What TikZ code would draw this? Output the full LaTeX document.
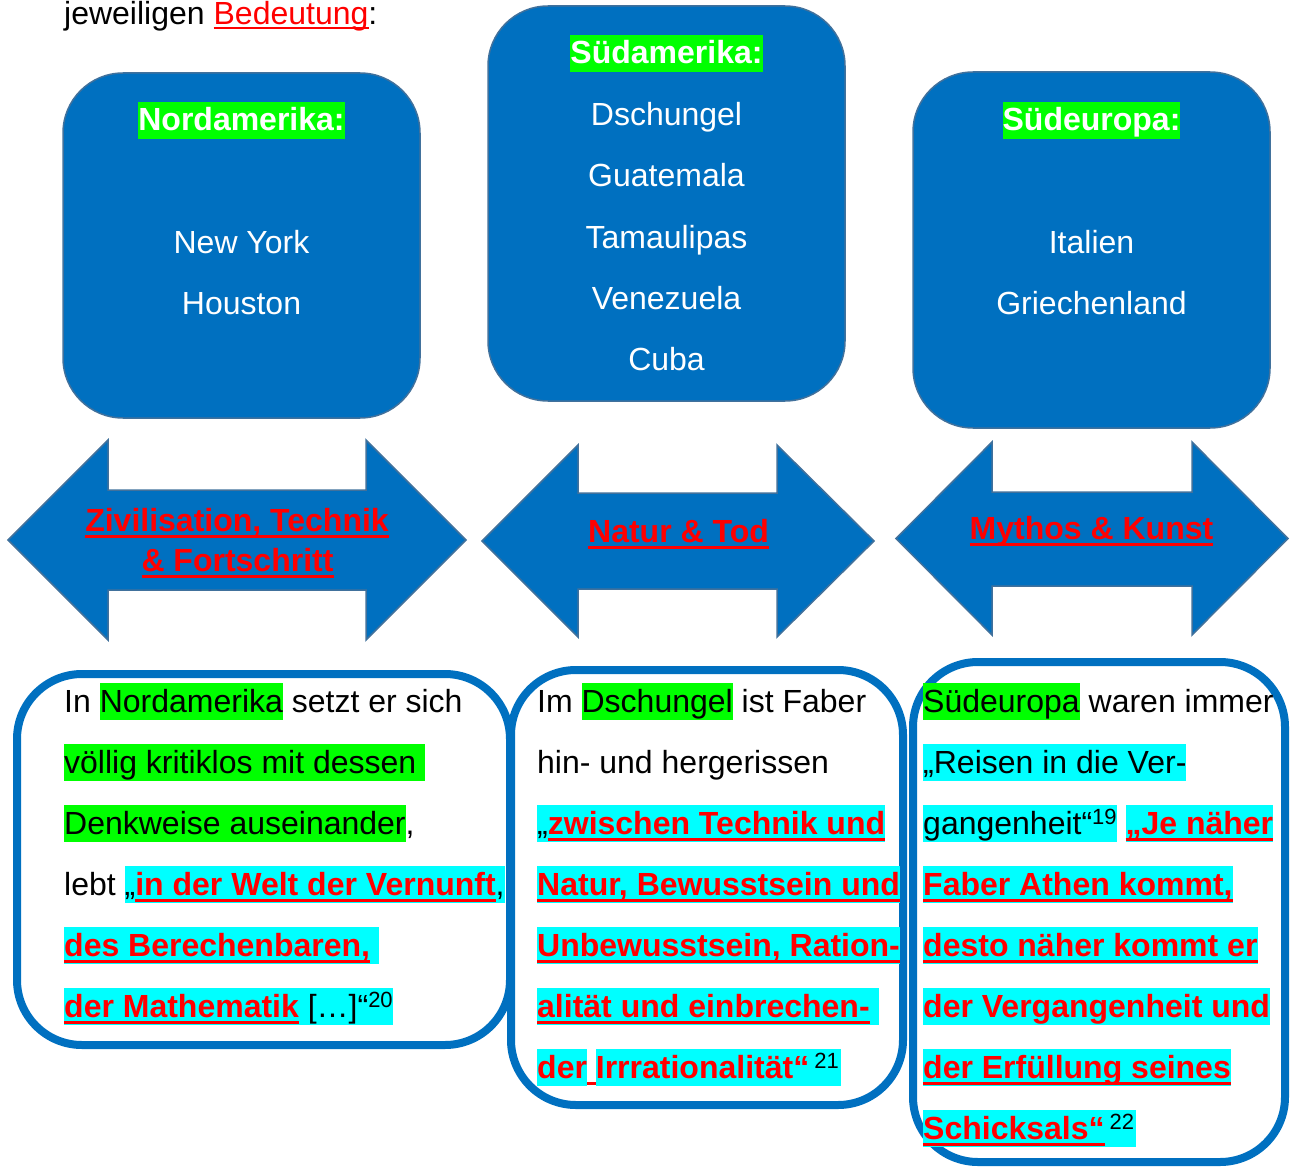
\documentclass[tikz,border=0pt]{standalone}
\usepackage{fontspec}
\setmainfont{Liberation Sans}
\definecolor{boxblue}{HTML}{0070C0}
\definecolor{edgeblue}{HTML}{41719C}
\definecolor{hlgreen}{HTML}{00FF00}
\definecolor{hlcyan}{HTML}{00FFFF}
\definecolor{ulred}{HTML}{FF0000}
\newsavebox\ulsave
\newcommand\hlstrut{\vrule height 29pt depth 8pt width 0pt}
\newcommand\hlg[1]{{\setlength\fboxsep{0pt}\colorbox{hlgreen}{\hlstrut#1}}}
\newcommand\hlc[1]{{\setlength\fboxsep{0pt}\colorbox{hlcyan}{\hlstrut#1}}}
\newcommand\redul[1]{{\sbox\ulsave{\color{ulred}\bfseries#1}\rlap{\color{ulred}\rule[-7pt]{\wd\ulsave}{3.5pt}}\usebox\ulsave}}
\newcommand\fnum[1]{\raisebox{10pt}{\fontsize{22}{22}\selectfont#1}}
\begin{document}
\begin{tikzpicture}[x=1pt,y=-1pt,
  txt/.style={inner sep=0pt, font=\fontsize{32}{38}\selectfont},
  wtxt/.style={txt, text=white, anchor=base},
  topbox/.style={draw=edgeblue, line width=1.5pt, fill=boxblue, rounded corners=60pt, inner sep=0pt},
  lowbox/.style={draw=boxblue, line width=8pt, rounded corners=65pt, inner sep=0pt},
  arrowshape/.style={draw=edgeblue, line width=1.5pt, fill=boxblue}]
\useasboundingbox (0,0) rectangle (1290,1169);

% heading line
\node[txt, anchor=base west] (head) at (64,25) {jeweiligen {\color{ulred}\rlap{\rule[-4pt]{155pt}{2pt}}Bedeutung}:};

% top boxes
\node[topbox, minimum width=357pt, minimum height=345pt] (na) at (241.5,245.5) {};
\node[topbox, minimum width=357pt, minimum height=395pt] (sa) at (666.5,203.5) {};
\node[topbox, minimum width=357pt, minimum height=356pt] (se) at (1091.5,250) {};

\node[wtxt] (naT) at (241.5,131) {\hlg{\bfseries Nordamerika:}};
\node[wtxt] (na1) at (241.5,253) {New York};
\node[wtxt] (na2) at (241.5,314) {Houston};

\node[wtxt] (saT) at (666.5,64) {\hlg{\bfseries Südamerika:}};
\node[wtxt] (sa1) at (666.5,126) {Dschungel};
\node[wtxt] (sa2) at (666.5,187) {Guatemala};
\node[wtxt] (sa3) at (666.5,248) {Tamaulipas};
\node[wtxt] (sa4) at (666.5,309) {Venezuela};
\node[wtxt] (sa5) at (666.5,370) {Cuba};

\node[wtxt] (seT) at (1091.5,131) {\hlg{\bfseries Südeuropa:}};
\node[wtxt] (se1) at (1091.5,253) {Italien};
\node[wtxt] (se2) at (1091.5,314) {Griechenland};

% double arrows
\draw[arrowshape] (8,540) -- (108,440) -- (108,490) -- (366,490) -- (366,440) -- (466,540) -- (366,640) -- (366,590) -- (108,590) -- (108,640) -- cycle;
\draw[arrowshape] (482,541) -- (578,445) -- (578,493) -- (777,493) -- (777,445) -- (874,541) -- (777,637) -- (777,589) -- (578,589) -- (578,637) -- cycle;
\draw[arrowshape] (896,538.5) -- (992,442) -- (992,492) -- (1192,492) -- (1192,442) -- (1288,538.5) -- (1192,635) -- (1192,586) -- (992,586) -- (992,635) -- cycle;

\node[txt, anchor=base] (a1a) at (237,531) {\redul{Zivilisation, Technik}};
\node[txt, anchor=base] (a1b) at (237.5,571) {\redul{\& Fortschritt}};
\node[txt, anchor=base] (a2) at (678.5,542) {\redul{Natur \& Tod}};
\node[txt, anchor=base] (a3) at (1091.5,539) {\redul{Mythos \& Kunst}};

% lower boxes
\node[lowbox, minimum width=493pt, minimum height=371pt] (b1) at (263.5,859.5) {};
\node[lowbox, minimum width=392pt, minimum height=435pt] (b2) at (707,887.5) {};
\node[lowbox, minimum width=372pt, minimum height=500pt] (b3) at (1099,912) {};

% box 1 text
\node[txt, anchor=base west] (l11) at (64,712) {In \hlg{Nordamerika} setzt er sich};
\node[txt, anchor=base west] (l12) at (64,773) {\hlg{völlig kritiklos mit dessen\ }};
\node[txt, anchor=base west] (l13) at (64,834) {\hlg{Denkweise auseinander},};
\node[txt, anchor=base west] (l14) at (64,895) {lebt \hlc{„\redul{in der Welt der Vernunft},}};
\node[txt, anchor=base west] (l15) at (64,956) {\hlc{\redul{des Berechenbaren,}\ }};
\node[txt, anchor=base west] (l16) at (64,1017) {\hlc{\redul{der Mathematik} […]“\fnum{20}}};

% box 2 text
\node[txt, anchor=base west] (l21) at (537,712) {Im \hlg{Dschungel} ist Faber};
\node[txt, anchor=base west] (l22) at (537,773) {hin- und hergerissen};
\node[txt, anchor=base west] (l23) at (537,834) {\hlc{„\redul{zwischen Technik und}}};
\node[txt, anchor=base west] (l24) at (537,895) {\hlc{\redul{Natur, Bewusstsein und}}};
\node[txt, anchor=base west] (l25) at (537,956) {\hlc{\redul{Unbewusstsein, Ration-}}};
\node[txt, anchor=base west] (l26) at (537,1017) {\hlc{\redul{alität und einbrechen-}\ }};
\node[txt, anchor=base west] (l27) at (537,1078) {\redul{\hlc{der}\ \hlc{Irrrationalität“}}\hlc{\hspace{5pt}\fnum{21}\hspace{2pt}}};

% box 3 text
\node[txt, anchor=base west] (l31) at (923,712) {\hlg{Südeuropa} waren immer};
\node[txt, anchor=base west] (l32) at (923,773) {\hlc{„Reisen in die Ver-}};
\node[txt, anchor=base west] (l33) at (923,834) {\hlc{gangenheit“\fnum{19}}\ \hlc{\redul{„Je näher}}};
\node[txt, anchor=base west] (l34) at (923,895) {\hlc{\redul{Faber Athen kommt,}}};
\node[txt, anchor=base west] (l35) at (923,956) {\hlc{\redul{desto näher kommt er}}};
\node[txt, anchor=base west] (l36) at (923,1017) {\hlc{\color{ulred}\bfseries der Vergangenheit und}};
\node[txt, anchor=base west] (l37) at (923,1078) {\hlc{\redul{der Erfüllung seines}}};
\node[txt, anchor=base west] (l38) at (923,1139) {\hlc{\redul{Schicksals“}\hspace{5pt}\fnum{22}\hspace{2pt}}};
\end{tikzpicture}
\end{document}
